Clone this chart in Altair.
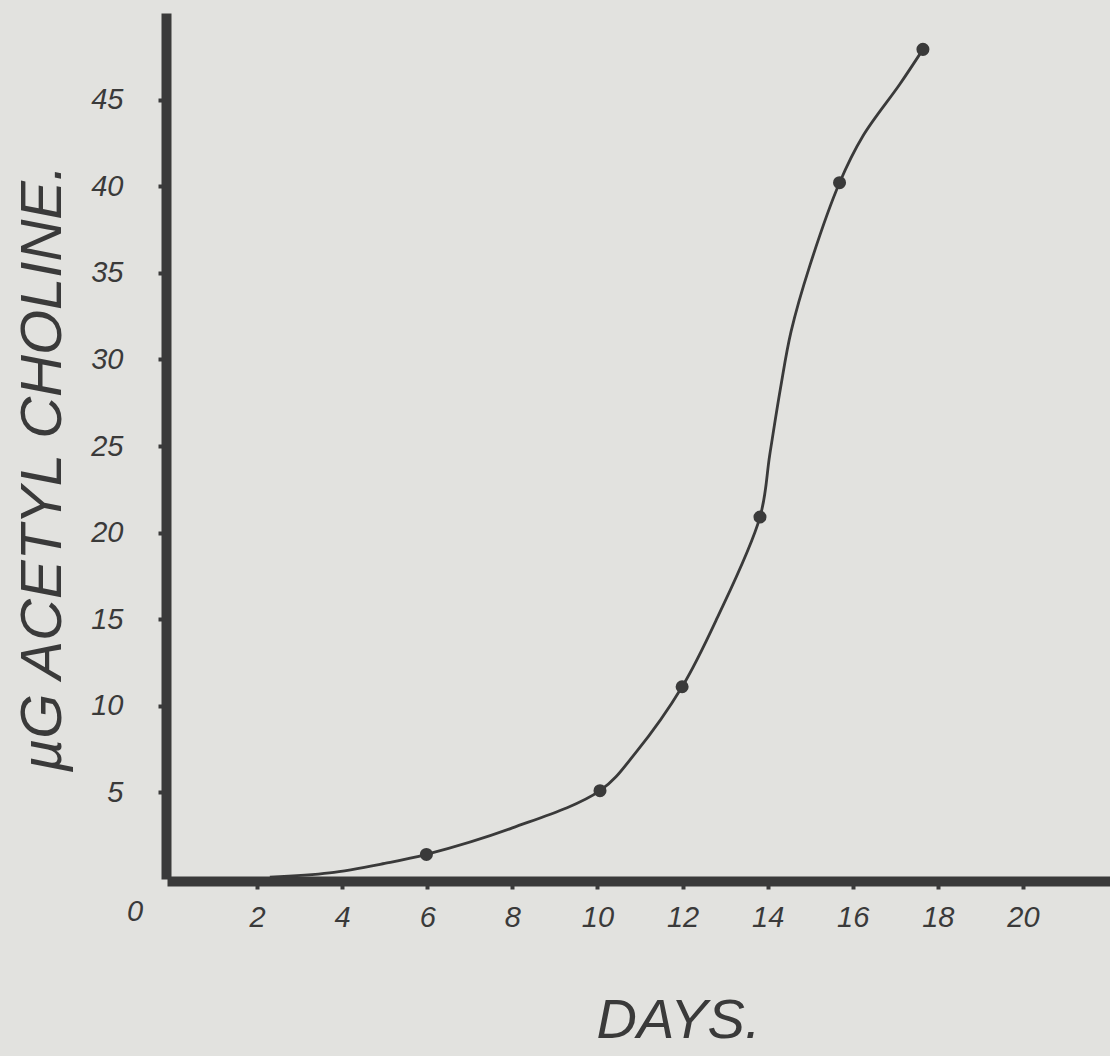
import altair as alt
import pandas as pd

# Measured points (days, µg acetylcholine)
point_days = [5.98, 10.06, 11.99, 13.82, 15.69, 17.65]
point_ach = [1.42, 5.1, 11.1, 20.9, 40.2, 47.9]

# Hand-drawn smooth curve
curve_days = [2.3, 3.7, 5.0, 5.98, 8.0, 10.06, 10.9, 11.99, 12.8,
              13.82, 14.05, 14.3, 14.55, 14.99, 15.69, 16.24, 17.11, 17.65]
curve_ach = [0.1, 0.35, 0.9, 1.42, 2.95, 5.1, 7.3, 11.1, 15.0,
             20.9, 24.5, 28.3, 31.6, 35.4, 40.2, 42.9, 45.9, 47.9]

x_ticks = [2, 4, 6, 8, 10, 12, 14, 16, 18, 20]
y_ticks = [5, 10, 15, 20, 25, 30, 35, 40, 45]
origin_label = ["0"]

INK = "#3a3a3a"
FONT = "Liberation Sans"

pts = pd.DataFrame({"day": point_days, "ach": point_ach})
crv = pd.DataFrame({"day": curve_days, "ach": curve_ach})
org = pd.DataFrame({"day": [0], "ach": [0], "lab": origin_label})

xscale = alt.Scale(domain=[0, 22], nice=False, zero=False)
yscale = alt.Scale(domain=[0, 50], nice=False, zero=False)

xaxis = alt.Axis(values=x_ticks, title="DAYS.", labelPadding=14, offset=2,
                 domainCap="square",
                 titleX=506, titleY=156, titleAlign="center",
                 titleBaseline="alphabetic", titleFontSize=56,
                 titleFontStyle="italic", titleFontWeight="normal",
                 titleFont=FONT, titleColor=INK)
yaxis = alt.Axis(values=y_ticks, title="µG  ACETYL  CHOLINE.", labelPadding=35,
                 offset=6, domainCap="butt", titleAngle=270, titleX=-106,
                 titleY=455, titleAlign="center", titleBaseline="alphabetic",
                 titleFontSize=58, titleFontStyle="italic",
                 titleFontWeight="normal", titleFont=FONT, titleColor=INK,
                 labelBaseline="middle")

line = alt.Chart(crv).mark_line(color=INK, strokeWidth=2.8,
                                interpolate="catmull-rom").encode(
    x=alt.X("day:Q", scale=xscale, axis=xaxis),
    y=alt.Y("ach:Q", scale=yscale, axis=yaxis),
    order="day:Q",
)

dots = alt.Chart(pts).mark_circle(color=INK, opacity=1, size=170).encode(
    x=alt.X("day:Q", scale=xscale),
    y=alt.Y("ach:Q", scale=yscale),
)

zero = alt.Chart(org).mark_text(font=FONT, fontStyle="italic", fontSize=29,
                                color=INK, dx=-37, dy=33).encode(
    x=alt.X("day:Q", scale=xscale),
    y=alt.Y("ach:Q", scale=yscale),
    text="lab:N",
)

chart = alt.layer(line, dots, zero).properties(
    width=936, height=866,
    autosize=alt.AutoSizeParams(type="none"),
    padding={"left": 172, "top": 13, "right": 2, "bottom": 177},
    background="#e2e2df",
).configure_view(stroke=None).configure_axis(
    grid=False,
    domainColor=INK, domainWidth=10,
    tickColor=INK, tickWidth=4, tickSize=8,
    labelFont=FONT, labelFontStyle="italic", labelFontSize=29,
    labelColor=INK,
)

chart.save("out.html", embed_options={"renderer": "svg", "actions": False})
